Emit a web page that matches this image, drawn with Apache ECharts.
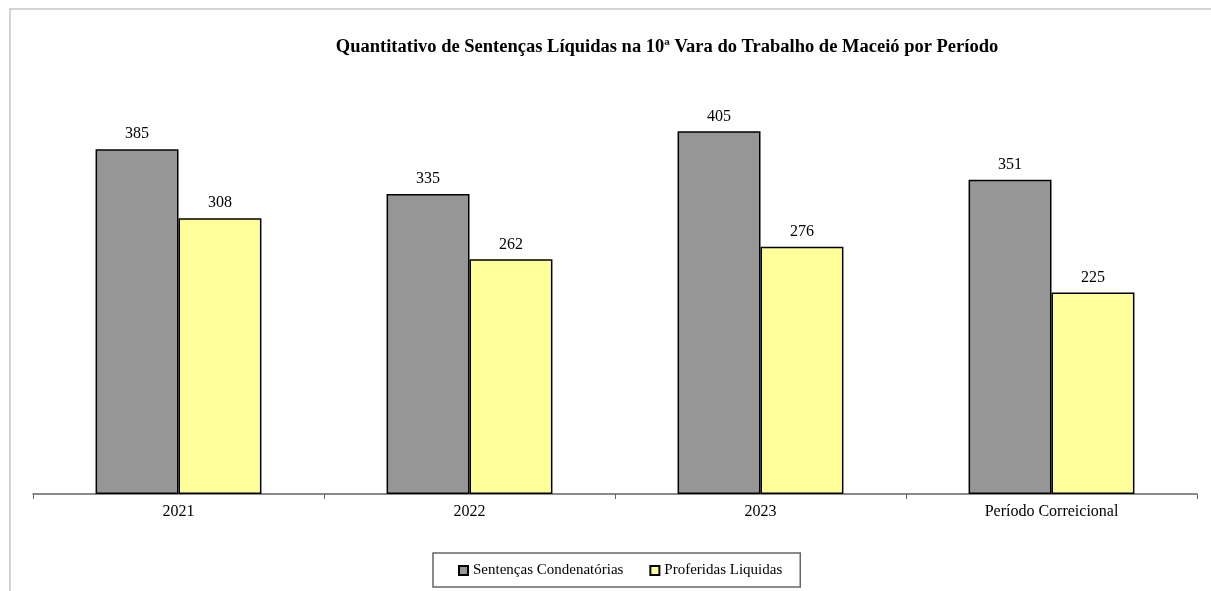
<!DOCTYPE html>
<html>
<head>
    <meta charset="utf-8">
    <title>Sentenças Líquidas</title>
    <script src="https://cdn.jsdelivr.net/npm/echarts@6/dist/echarts.min.js"></script>
    <style>
        html, body { margin: 0; padding: 0; background: #fff; }
    </style>
</head>
<body>
<div id="main" style="width: 1211px;height:591px;"></div>
<script type="text/javascript">
// dados
var categorias = ['2021', '2022', '2023', 'Período Correicional'];
var condenatorias = [385, 335, 405, 351];
var liquidas = [308, 262, 276, 225];

var serif = '"Liberation Serif", "DejaVu Serif", serif';

var myChart = echarts.init(document.getElementById('main'));

var rotulo = {
    show: true,
    position: 'top',
    distance: 7,
    fontFamily: serif,
    fontSize: 16,
    color: '#000'
};

myChart.setOption({
    backgroundColor: '#fff',
    animation: false,
    graphic: [{
        type: 'rect',
        shape: { x: 10, y: 9, width: 1240, height: 640 },
        style: { fill: 'none', stroke: '#d4d4d4', lineWidth: 2 },
        silent: true
    }],
    title: {
        text: 'Quantitativo de Sentenças Líquidas na 10ª Vara do Trabalho de Maceió por Período',
        left: 662,
        textAlign: 'center',
        top: 33,
        textStyle: {
            fontFamily: serif,
            fontSize: 18.5,
            fontWeight: 'bold',
            color: '#000'
        }
    },
    legend: {
        data: ['Sentenças Condenatórias', 'Proferidas Liquidas'],
        left: 433,
        top: 553,
        padding: [10, 18, 9, 25],
        itemGap: 26,
        itemWidth: 9,
        itemHeight: 9,
        icon: 'rect',
        borderColor: '#666',
        borderWidth: 1.5,
        textStyle: {
            fontFamily: serif,
            fontSize: 15,
            color: '#000'
        }
    },
    grid: {
        left: 33,
        right: 14,
        top: 91,
        bottom: 97
    },
    xAxis: {
        type: 'category',
        data: categorias,
        axisLine: { lineStyle: { color: '#666', width: 1.5 } },
        axisTick: { show: true, length: 5, lineStyle: { color: '#666' } },
        axisLabel: {
            fontFamily: serif,
            fontSize: 16,
            color: '#000',
            margin: 10
        }
    },
    yAxis: {
        type: 'value',
        min: 0,
        max: 450,
        show: false,
        splitLine: { show: false }
    },
    series: [
        {
            name: 'Sentenças Condenatórias',
            type: 'bar',
            data: condenatorias,
            barGap: '0%',
            barCategoryGap: '43%',
            itemStyle: { color: '#969696', borderColor: '#000', borderWidth: 1.5 },
            label: rotulo
        },
        {
            name: 'Proferidas Liquidas',
            type: 'bar',
            data: liquidas,
            itemStyle: { color: '#ffff99', borderColor: '#000', borderWidth: 1.5 },
            label: rotulo
        }
    ]
});
</script>
</body>
</html>
